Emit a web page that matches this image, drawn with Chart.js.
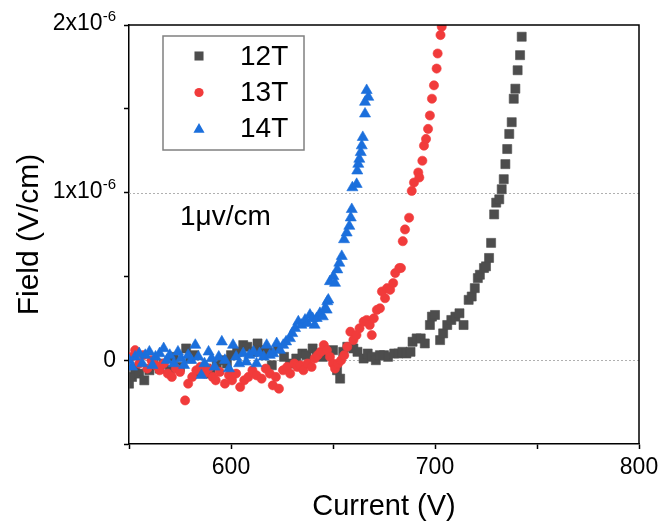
<!DOCTYPE html>
<html>
<head>
<meta charset="utf-8">
<script src="https://cdn.jsdelivr.net/npm/chart.js@4/dist/chart.umd.min.js"></script>
<style>
  body { margin: 0; background: #fff; }
</style>
</head>
<body>
<canvas id="grafico" width="659" height="525"></canvas>
<script>
// field values are read in units of 1e-6 V/cm
const current12 = [
    550, 551.5, 553, 555, 557.5, 560, 562, 565, 567, 570,
    572, 575, 578, 580, 582, 585, 588, 590, 593, 596,
    598, 600, 603, 606, 608, 611, 613, 615, 618, 620,
    623, 626, 629, 632, 635, 637, 640, 642, 645, 648,
    650, 652, 653.5, 655, 657, 660, 662, 665, 667, 669,
    671, 673, 675, 677, 680, 682, 684, 686, 688, 689,
    691, 693, 695, 697.5, 698.5, 700, 702.5, 704, 706, 708,
    710, 712, 714, 716.5, 718, 719.5, 721, 722, 724, 725,
    726.5, 727.5, 729, 730, 731.5, 732.7, 733.7, 734.5, 735.4, 736.4,
    737.6, 738.6, 739.4, 740.5, 741.7, 742.5
];
const field12 = [
    -0.14, -0.10, -0.05, -0.08, -0.12, -0.06, -0.03, -0.05, -0.02, -0.06,
    0.02, -0.04, 0.07, 0.01, 0.03, -0.07, -0.05, -0.08, -0.03, 0.00,
    -0.02, 0.03, 0.05, 0.09, 0.08, 0.05, 0.10, 0.06, 0.05, -0.03,
    0.07, 0.02, -0.02, 0.01, 0.04, 0.03, 0.07, 0.04, 0.02, 0.05,
    0.06, -0.06, -0.11, 0.05, 0.08, 0.07, 0.05, 0.01, 0.04, 0.02,
    0.00, 0.03, 0.03, 0.02, 0.04, 0.04, 0.05, 0.04, 0.05, 0.11,
    0.13, 0.13, 0.10, 0.21, 0.26, 0.27, 0.12, 0.16, 0.21, 0.24,
    0.26, 0.28, 0.21, 0.36, 0.38, 0.43, 0.49, 0.51, 0.55, 0.56,
    0.61, 0.70, 0.87, 0.94, 0.96, 1.02, 1.08, 1.17, 1.26, 1.35,
    1.42, 1.56, 1.62, 1.73, 1.82, 1.93
];

const current13 = [
    551, 553, 555, 557, 559, 561, 563, 565, 567, 569,
    571, 573, 575, 577.5, 579, 581, 583, 585, 587, 589,
    591, 592.5, 594.5, 597, 599, 600.5, 602.5, 604.5, 606.5, 608.5,
    610.5, 612.5, 615, 617, 619, 620.5, 622, 623.5, 625.5, 627.5,
    629, 631, 632.5, 634, 635.5, 637.5, 639.5, 641, 642.5, 644,
    645.5, 647, 648.5, 650, 651, 652.5, 654, 655.5, 657, 658.5,
    660, 661.5, 663, 665, 666.5, 668, 669, 670, 671.5, 673,
    674, 675.5, 676.5, 678, 679.5, 680.5, 682.5, 683.3, 684.2, 685.3,
    687.3, 688.6, 689.7, 691.8, 692.3, 693.8, 694.6, 695.6, 696.6, 697.5,
    698.5, 699.5, 700.8, 701.3, 702.7, 703.3
];
const field13 = [
    0.02, 0.06, -0.02, 0.03, -0.05, 0.00, -0.03, -0.06, -0.02, -0.08,
    -0.10, -0.05, -0.07, -0.24, -0.14, -0.10, -0.06, -0.04, -0.08, -0.05,
    -0.10, -0.12, -0.07, -0.14, -0.09, -0.12, -0.08, -0.16, -0.12, -0.10,
    -0.06, -0.09, -0.11, -0.05, -0.08, -0.15, -0.10, -0.17, -0.06, -0.04,
    -0.08, -0.02, -0.04, -0.03, -0.06, -0.02, -0.04, 0.01, 0.03, 0.05,
    0.09, 0.06, 0.02, -0.02, -0.05, -0.02, 0.00, 0.03, 0.08, 0.17,
    0.12, 0.15, 0.19, 0.23, 0.24, 0.21, 0.15, 0.25, 0.30, 0.31,
    0.41, 0.37, 0.43, 0.42, 0.46, 0.52, 0.55, 0.55, 0.71, 0.78,
    0.85, 1.01, 1.06, 1.12, 1.09, 1.19, 1.28, 1.32, 1.38, 1.46,
    1.56, 1.64, 1.74, 1.83, 1.94, 1.99
];

const current14 = [
    550, 551.5, 553, 555, 556.5, 558, 560, 561.5, 563, 565,
    567, 568.5, 570, 572, 574, 575.5, 577, 579, 580.5, 582.5,
    584, 585.5, 587, 589, 590.5, 592, 594, 595.5, 597, 599,
    601, 602.5, 604, 606, 607.5, 609, 611, 612.5, 614, 616,
    617.5, 619, 620.7, 622.4, 624, 625.6, 627, 628.9, 630, 631.4,
    633, 634.5, 636.3, 637.5, 638.7, 640, 641, 642, 643.6, 645,
    646.1, 646.9, 647.2, 647.7, 648.5, 650.2, 651, 652.1, 653.1, 654.3,
    655.4, 656.7, 658, 658.7, 659.2, 659.5, 661.6, 661.9, 662.4, 662.9,
    663.6, 664.1, 664.6, 665.7, 665.7, 667.3, 666.5
];
const field14 = [
    0.00, -0.04, 0.02, 0.04, -0.02, 0.03, 0.05, -0.03, 0.02, 0.04,
    0.07, 0.00, 0.03, -0.02, 0.05, 0.01, -0.03, 0.03, 0.00, 0.09,
    0.02, -0.09, -0.02, 0.05, 0.01, -0.04, 0.02, 0.11, 0.00, -0.05,
    0.09, 0.02, -0.02, 0.04, -0.01, 0.03, 0.05, -0.02, 0.04, 0.02,
    0.09, 0.03, 0.04, 0.10, 0.06, 0.09, 0.11, 0.13, 0.16, 0.19,
    0.23, 0.21, 0.24, 0.22, 0.27, 0.25, 0.21, 0.25, 0.28, 0.26,
    0.31, 0.30, 0.35, 0.36, 0.47, 0.50, 0.46, 0.54, 0.58, 0.62,
    0.72, 0.76, 0.80, 0.85, 0.90, 1.03, 1.05, 1.13, 1.17, 1.20,
    1.24, 1.28, 1.33, 1.47, 1.54, 1.57, 1.61
];

const seriesLabels = ['12T', '13T', '14T'];
const xTickLabels = [600, 700, 800];
const yTickLabels = [0, 1, 2];      // x10^-6
const gridValues = [0, 1];          // dotted reference lines, x10^-6
const noteText = '1\u03bcv/cm';

const FONT = '"Liberation Sans", Arial, sans-serif';
const colores = ['#4d4d4d', '#f13b3b', '#1b6fdc'];
const estilos = ['rect', 'circle', 'triangle'];
const radios = [6.4, 4.6, 6.4];

function puntos(xs, ys) {
    return xs.map((x, i) => ({ x: x, y: ys[i] * 1e-6 }));
}

function marcador(ctx, estilo, x, y, r) {
    ctx.beginPath();
    if (estilo === 'rect') {
        const s = r * Math.SQRT1_2;
        ctx.rect(x - s, y - s, 2 * s, 2 * s);
    } else if (estilo === 'circle') {
        ctx.arc(x, y, r, 0, Math.PI * 2);
    } else {
        ctx.moveTo(x, y - r);
        ctx.lineTo(x + r * Math.sqrt(3) / 2, y + r / 2);
        ctx.lineTo(x - r * Math.sqrt(3) / 2, y + r / 2);
        ctx.closePath();
    }
    ctx.fill();
}

const decor = {
    id: 'decor',
    beforeDatasetsDraw(chart) {
        const ctx = chart.ctx;
        const a = chart.chartArea;
        const y = chart.scales.y;
        ctx.save();
        ctx.strokeStyle = '#b0b0b0';
        ctx.lineWidth = 1;
        ctx.setLineDash([2, 2]);
        gridValues.forEach(v => {
            const py = Math.round(y.getPixelForValue(v * 1e-6)) + 0.5;
            ctx.beginPath();
            ctx.moveTo(a.left, py);
            ctx.lineTo(a.right, py);
            ctx.stroke();
        });
        ctx.restore();
    },
    afterDraw(chart) {
        const ctx = chart.ctx;
        const a = chart.chartArea;
        const y = chart.scales.y;
        ctx.save();

        // top and right frame
        ctx.strokeStyle = '#000';
        ctx.lineWidth = 1.5;
        ctx.beginPath();
        ctx.moveTo(a.left, a.top);
        ctx.lineTo(a.right, a.top);
        ctx.lineTo(a.right, a.bottom);
        ctx.stroke();

        // y tick labels with superscript exponent
        ctx.fillStyle = '#000';
        ctx.textAlign = 'right';
        ctx.textBaseline = 'middle';
        const xr = 116;
        yTickLabels.forEach(v => {
            const py = y.getPixelForValue(v * 1e-6);
            if (v === 0) {
                ctx.font = '23px ' + FONT;
                ctx.fillText('0', xr, py);
                return;
            }
            ctx.font = '15px ' + FONT;
            const w = ctx.measureText('-6').width;
            ctx.fillText('-6', xr, py - 8);
            ctx.font = '23px ' + FONT;
            ctx.fillText(v + 'x10', xr - w, py - 1);
        });

        // legend
        ctx.strokeStyle = '#808080';
        ctx.lineWidth = 1.5;
        ctx.strokeRect(163, 36, 141, 114);
        const filas = [56, 92.5, 128.5];
        ctx.textAlign = 'left';
        ctx.font = '28px ' + FONT;
        seriesLabels.forEach((lab, i) => {
            ctx.fillStyle = colores[i];
            marcador(ctx, estilos[i], 199, filas[i] + (i === 2 ? 1 : 0), radios[i]);
            ctx.fillStyle = '#000';
            ctx.fillText(lab, 240, filas[i] + 1);
        });

        // annotation
        ctx.font = '28px ' + FONT;
        ctx.textBaseline = 'alphabetic';
        ctx.fillText(noteText, 180, 225);

        ctx.restore();
    }
};

const ctx = document.getElementById('grafico').getContext('2d');
const datos = [[current12, field12], [current13, field13], [current14, field14]];

const grafico = new Chart(ctx, {
    type: 'scatter',
    data: {
        datasets: datos.map((d, i) => ({
            label: seriesLabels[i],
            data: puntos(d[0], d[1]),
            pointStyle: estilos[i],
            pointRadius: radios[i],
            backgroundColor: colores[i],
            borderColor: colores[i],
            borderWidth: 0.6,
            order: 3 - i
        }))
    },
    options: {
        responsive: false,
        animation: false,
        events: [],
        layout: {
            padding: { top: 25, right: 20, left: 0, bottom: 0 }
        },
        plugins: {
            legend: { display: false },
            tooltip: { enabled: false }
        },
        scales: {
            x: {
                type: 'linear',
                min: 550,
                max: 800,
                afterFit: function (scale) {
                    scale.height = 81;
                    scale.paddingLeft = 0;
                    scale.paddingRight = 0;
                },
                ticks: {
                    stepSize: 50,
                    color: '#000',
                    font: { family: FONT, size: 23 },
                    padding: 5,
                    maxRotation: 0,
                    callback: v => xTickLabels.includes(v) ? String(v) : ''
                },
                grid: {
                    drawOnChartArea: false,
                    tickLength: 5,
                    tickColor: '#000',
                    tickWidth: 1.5
                },
                border: { color: '#000', width: 1.5 },
                title: {
                    display: true,
                    text: 'Current (V)',
                    color: '#000',
                    font: { family: FONT, size: 29 },
                    padding: { top: 0, bottom: 1 }
                }
            },
            y: {
                type: 'linear',
                min: -0.5e-6,
                max: 2e-6,
                afterFit: function (scale) {
                    scale.width = 129;
                    scale.paddingTop = 0;
                    scale.paddingBottom = 0;
                },
                ticks: {
                    stepSize: 0.5e-6,
                    callback: () => ''
                },
                grid: {
                    drawOnChartArea: false,
                    tickLength: 5,
                    tickColor: '#000',
                    tickWidth: 1.5
                },
                border: { color: '#000', width: 1.5 },
                title: {
                    display: true,
                    text: 'Field (V/cm)',
                    color: '#000',
                    font: { family: FONT, size: 30 },
                    padding: { top: 12, bottom: 0 }
                }
            }
        }
    },
    plugins: [decor]
});
</script>
</body>
</html>
